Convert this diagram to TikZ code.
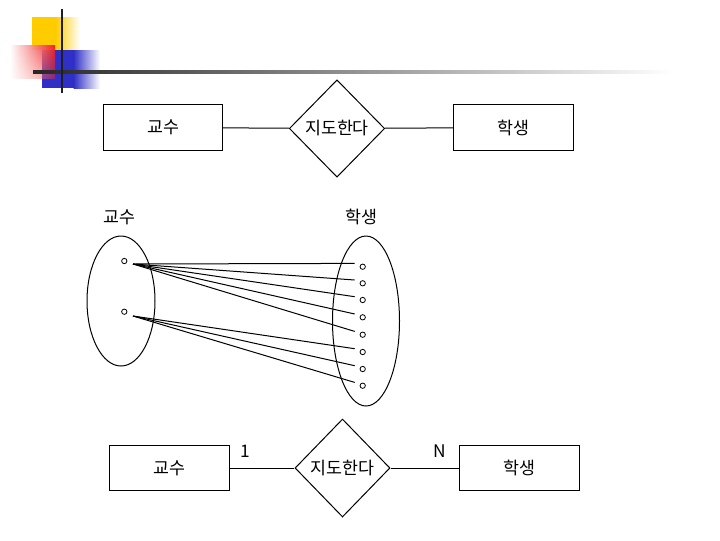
\documentclass[tikz,border=0pt]{standalone}
\usepackage{fontspec}
\setmainfont{Noto Sans CJK KR}
\usetikzlibrary{shapes.geometric,calc,fadings}
\definecolor{logoyellow}{HTML}{FFCC00}
\definecolor{logoblue}{HTML}{3030C8}
\definecolor{logored}{HTML}{F02020}
\tikzfading[name=redfade, top color=transparent!0, bottom color=transparent!55]
\begin{document}
\begin{tikzpicture}[x=0.75pt,y=-0.75pt,
  txt/.style={font=\fontsize{13}{13}\selectfont, inner sep=0pt},
  ent/.style={txt, draw, line width=0.75pt, minimum width=89.5pt, minimum height=34pt},
  rel/.style={txt, draw, diamond, aspect=1, line width=0.75pt, minimum width=71.5pt, minimum height=73pt},
  conn/.style={line width=0.75pt},
  dot/.style={draw, circle, line width=0.6pt, minimum size=4pt, inner sep=0pt},
  setell/.style={draw, ellipse, line width=0.75pt, inner sep=0pt}]
\useasboundingbox (0,0) rectangle (720,540);
% logo
\fill[logoyellow] (32,17) rectangle (56,50);
\shade[left color=logoyellow, right color=white] (55.5,17) rectangle (80,50);
\fill[logoblue] (42,50) rectangle (74,88);
\shade[left color=logoblue, right color=white] (73.5,50) rectangle (100,88);
\shade[left color=white, right color=logored, path fading=redfade] (10,45) rectangle (55,78);
\shade[left color=black!85, right color=white] (33,70.7) rectangle (673,73.3);
\fill[black!88] (60.7,9) rectangle (63.3,93);
% top ER
\node[ent] (p1) at (163,127.5) {교수};
\node[ent] (s1) at (513.5,127.5) {학생};
\node[rel] (r1) at (337,128.5) {지도한다};
\draw[conn] (p1) -- (r1);
\draw[conn] (r1) -- (s1);
% middle sets
\node[setell, minimum width=51pt, minimum height=97.5pt] (PE) at (121,301) {};
\node[setell, minimum width=50.25pt, minimum height=127.5pt] (SE) at (366,321) {};
\node[txt] (PL) at (119,217) {교수};
\node[txt] (SL) at (361,217) {학생};
\node[dot] (a) at (124.3,261) {};
\node[dot] (b) at (124.3,311.7) {};
\foreach \i/\y in {1/266.7,2/283.3,3/300,4/317.3,5/334.7,6/352,7/369,8/385.7}
  \node[dot] (d\i) at (362.7,\y) {};
\coordinate (ja) at (133,264);
\coordinate (jb) at (133,316);
\foreach \i in {1,...,5}
  \draw[conn] (ja) -- ($(d\i)+(-8,-3.3)$);
\foreach \i in {6,7,8}
  \draw[conn] (jb) -- ($(d\i)+(-8,-3.3)$);
% bottom ER
\node[ent] (p2) at (169.5,468) {교수};
\node[ent] (s2) at (519.5,468) {학생};
\node[rel, minimum width=71.25pt, minimum height=73.5pt] (r2) at (342.5,468) {지도한다};
\draw[conn] (p2) -- (r2);
\draw[conn] (r2) -- (s2);
\node[txt] (one) at (245,451) {1};
\node[txt] (en) at (440,451) {N};
\end{tikzpicture}
\end{document}
